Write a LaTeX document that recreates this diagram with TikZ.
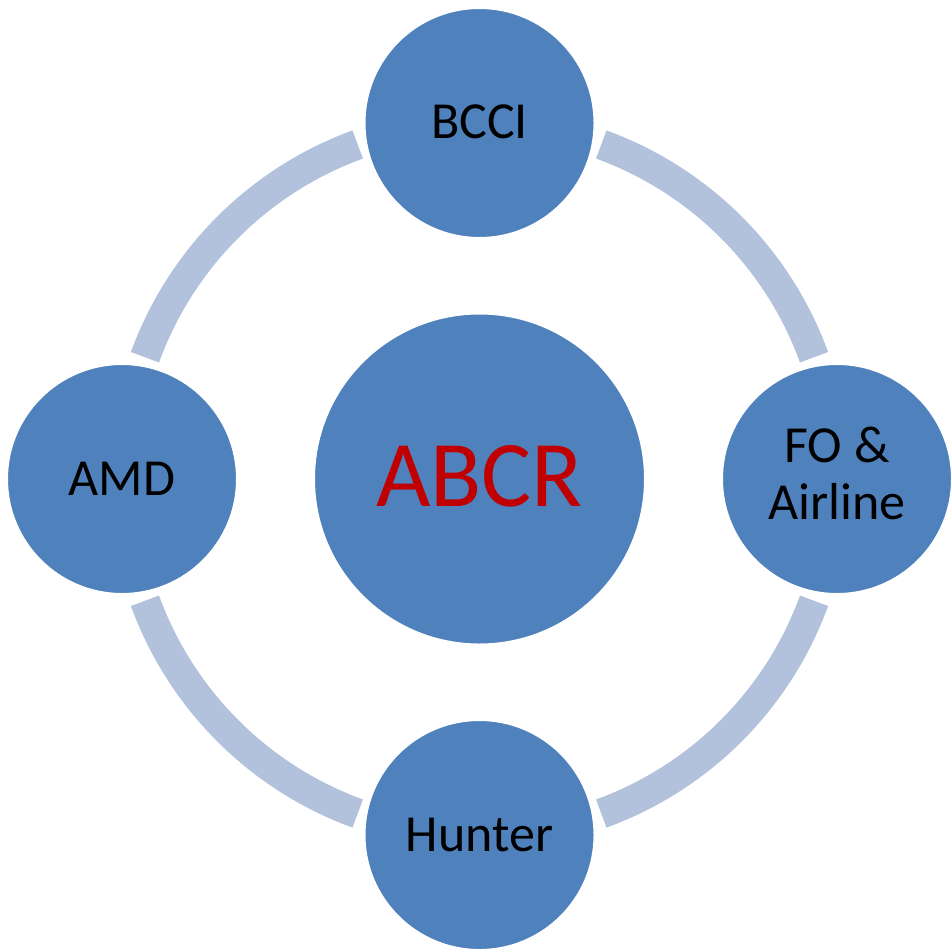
\documentclass[tikz,border=0pt]{standalone}
\usepackage{fontspec}
\setmainfont{Carlito}
\definecolor{circblue}{HTML}{4F81BD}
\definecolor{ringblue}{HTML}{B2C1DC}
\definecolor{abcrred}{HTML}{C00000}
\newcommand{\liftup}[2]{\raisebox{#1}[\height][\depth]{#2}}
\begin{document}
\begin{tikzpicture}[x=1pt,y=-1pt,
  outer/.style={circle,fill=circblue,draw=white,line width=4pt,minimum size=232pt,inner sep=0pt,align=center,text=black,font=\fontsize{52}{57}\selectfont},
  inner/.style={circle,fill=circblue,draw=white,line width=4pt,minimum size=333pt,inner sep=0pt,text=abcrred,font=\fontsize{94}{100}\selectfont},
  ring/.style={draw=ringblue,line width=30pt,line cap=butt}]
\useasboundingbox (0,0) rectangle (952,951);
\coordinate (C) at (479.5,479);
\draw[ring] (C) ++(20:356) arc[start angle=20,end angle=70,radius=356];
\draw[ring] (C) ++(110:356) arc[start angle=110,end angle=160,radius=356];
\draw[ring] (C) ++(200:356) arc[start angle=200,end angle=250,radius=356];
\draw[ring] (C) ++(290:356) arc[start angle=290,end angle=340,radius=356];
\node[inner] (abcr) at (C) {\liftup{3pt}{ABCR}};
\node[outer] (bcci) at (479.5,123) {\liftup{1pt}{BCCI}};
\node[outer] (fo) at (837,479) {\liftup{-1pt}{\begin{tabular}{@{}c@{}}FO \&\\Airline\end{tabular}}};
\node[outer] (hunter) at (479.5,835) {Hunter};
\node[outer] (amd) at (122,479) {AMD};
\end{tikzpicture}
\end{document}
